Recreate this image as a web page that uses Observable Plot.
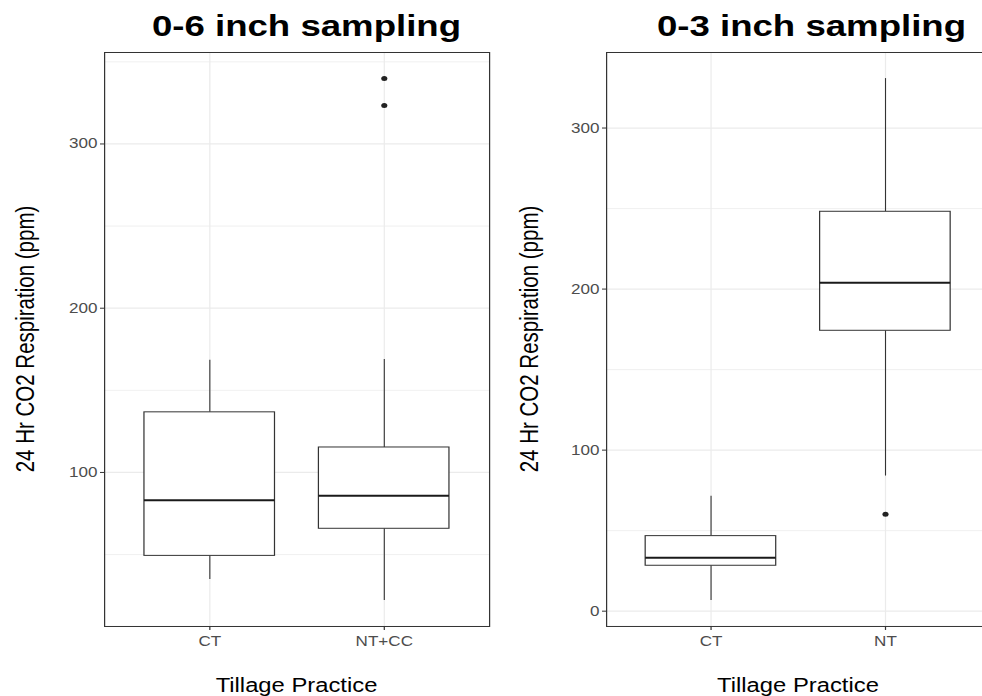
<!DOCTYPE html>
<html><head><meta charset="utf-8">
<script src="https://cdn.jsdelivr.net/npm/d3@7"></script>
<script src="https://cdn.jsdelivr.net/npm/@observablehq/plot@0.6"></script>
<style>
body{margin:0;background:#fff;}
#root{position:relative;width:982px;height:696px;overflow:hidden;background:#fff;font-family:'Liberation Sans',Arial,sans-serif;}
.panel{position:absolute;top:0;height:696px;transform-origin:0 0;}
.panel svg{position:absolute;left:0;top:0;}
.title{position:absolute;top:11.3px;font-weight:bold;font-size:30px;line-height:30px;white-space:nowrap;transform:translateX(-50%);color:#000;}
.xlab{position:absolute;top:675px;font-size:19.5px;line-height:20px;white-space:nowrap;transform:translateX(-50%);color:#000;}
.ylab{position:absolute;top:339px;font-size:20.5px;line-height:21px;white-space:nowrap;transform:translate(-50%,-50%) rotate(-90deg);color:#000;}
</style></head>
<body><div id="root"></div>
<script>
// ---- data ----
const titles = ["0-6 inch sampling", "0-3 inch sampling"];
const xTitle = "Tillage Practice";
const yTitle = "24 Hr CO2 Respiration (ppm)";

// 0-6 inch panel
const cats6 = ["CT", "NT+CC"];
const lo6  = [34.8, 22.1];
const q1_6 = [49.2, 65.7];
const med6 = [83.1, 85.8];
const q3_6 = [136.6, 115.2];
const hi6  = [168.3, 168.7];
const outCat6 = ["NT+CC", "NT+CC"];
const outVal6 = [339.8, 323.4];
const yMajor6 = [100, 200, 300];
const yMinor6 = [50, 150, 250, 350];

// 0-3 inch panel
const cats3 = ["CT", "NT"];
const lo3  = [6.7, 83.9];
const q1_3 = [28.2, 174.1];
const med3 = [33.2, 203.9];
const q3_3 = [46.6, 248.0];
const hi3  = [71.4, 330.7];
const outCat3 = ["NT"];
const outVal3 = [60.2];
const yMajor3 = [0, 100, 200, 300];
const yMinor3 = [50, 150, 250];

// ---- layout ----
const SX = 1.22; // horizontal stretch of the original picture
const root = document.getElementById("root");

function panel(cfg) {
  const W = cfg.screenWidth / SX;
  const wrap = document.createElement("div");
  wrap.className = "panel";
  wrap.style.left = cfg.screenLeft + "px";
  wrap.style.width = W + "px";
  wrap.style.transform = `scaleX(${SX})`;
  root.appendChild(wrap);

  const rows = cfg.cats.map((c, i) => ({cat: c, lo: cfg.lo[i], q1: cfg.q1[i], med: cfg.med[i], q3: cfg.q3[i], hi: cfg.hi[i]}));
  const outRows = cfg.outCat.map((c, i) => ({cat: c, v: cfg.outVal[i]}));
  const mn = d3.min([...cfg.lo, ...cfg.outVal]);
  const mx = d3.max([...cfg.hi, ...cfg.outVal]);
  const r = mx - mn;

  const chart = Plot.plot({
    width: W,
    height: 696,
    marginLeft: (cfg.frameLeft - cfg.screenLeft) / SX,
    marginRight: (cfg.screenLeft + cfg.screenWidth - cfg.frameRight) / SX,
    marginTop: 52,
    marginBottom: 70,
    style: {fontFamily: "'Liberation Sans', Arial, sans-serif", fontSize: "14px", background: "white", color: "#333"},
    x: {type: "band", domain: cfg.cats, paddingInner: 0.25, paddingOuter: 0.225},
    y: {domain: [mn - 0.05 * r, mx + 0.05 * r]},
    marks: [
      Plot.gridY(cfg.yMinor, {stroke: "#ebebeb", strokeOpacity: 1, strokeWidth: 0.7}),
      Plot.gridY(cfg.yMajor, {stroke: "#ebebeb", strokeOpacity: 1, strokeWidth: 1.2}),
      Plot.gridX(cfg.cats, {stroke: "#ebebeb", strokeOpacity: 1, strokeWidth: 1.2 / SX}),
      Plot.ruleX(rows, {x: "cat", y1: "lo", y2: "q1", stroke: "#333", strokeWidth: 1.1 / SX}),
      Plot.ruleX(rows, {x: "cat", y1: "q3", y2: "hi", stroke: "#333", strokeWidth: 1.1 / SX}),
      Plot.barY(rows, {x: "cat", y1: "q1", y2: "q3", fill: "white", stroke: "#333", strokeWidth: 1}),
      Plot.tickY(rows, {x: "cat", y: "med", stroke: "#1a1a1a", strokeWidth: 2}),
      Plot.dot(outRows, {x: "cat", y: "v", r: 2.5, fill: "#222", stroke: "none"}),
      Plot.frame({stroke: "#333", strokeWidth: 1}),
      Plot.axisY(cfg.yMajor, {tickSize: 4 / SX, tickPadding: 3 / SX, label: null, stroke: "#333", fill: "#4d4d4d"}),
      Plot.axisX({tickSize: 4, tickPadding: 6, label: null, stroke: "#333", fill: "#4d4d4d"})
    ]
  });
  wrap.appendChild(chart);

  const t = document.createElement("div");
  t.className = "title";
  t.textContent = cfg.title;
  t.style.left = ((cfg.titleX - cfg.screenLeft) / SX) + "px";
  wrap.appendChild(t);

  const xl = document.createElement("div");
  xl.className = "xlab";
  xl.textContent = xTitle;
  xl.style.left = (((cfg.frameLeft + cfg.frameRight) / 2 - cfg.screenLeft) / SX) + "px";
  wrap.appendChild(xl);

  const yl = document.createElement("div");
  yl.className = "ylab";
  yl.textContent = yTitle;
  yl.style.left = ((cfg.yLabX - cfg.screenLeft) / SX) + "px";
  wrap.appendChild(yl);
}

panel({screenLeft: 0, screenWidth: 500, frameLeft: 104, frameRight: 489, titleX: 306.5, yLabX: 24,
  title: titles[0], cats: cats6, lo: lo6, q1: q1_6, med: med6, q3: q3_6, hi: hi6,
  outCat: outCat6, outVal: outVal6, yMajor: yMajor6, yMinor: yMinor6});

panel({screenLeft: 500, screenWidth: 490, frameLeft: 606, frameRight: 990, titleX: 811.5, yLabX: 529,
  title: titles[1], cats: cats3, lo: lo3, q1: q1_3, med: med3, q3: q3_3, hi: hi3,
  outCat: outCat3, outVal: outVal3, yMajor: yMajor3, yMinor: yMinor3});
</script>
</body></html>
